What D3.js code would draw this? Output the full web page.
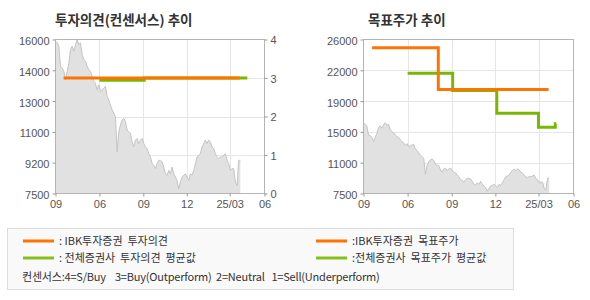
<!DOCTYPE html>
<meta charset="utf-8">
<style>
body { margin: 0; background: #fff; }
text { font-family: "Liberation Sans", Arial, sans-serif; }
.title { font-family: "Noto Sans CJK KR", sans-serif; font-weight: bold; font-size: 13.5px; fill: #333; }
.axis text { font-size: 11px; fill: #555; }
.axis line { stroke: #999; }
.axis .domain { display: none; }
.legend text { font-family: "Noto Sans CJK KR", sans-serif; font-size: 11px; fill: #333; }
</style>
<svg width="590" height="300"></svg>
<script src="https://d3js.org/d3.v7.min.js"></script>
<script>

// stock price, sampled about every 3.5 days from 2024-03-01
var priceStart = "2024-03-01";
var priceStepDays = 3.49;
var priceVals = [
  15910, 15820, 15630, 14520, 14430, 14240, 13780, 14240, 14700, 15440,
  15630, 15350, 15720, 16000, 15720, 15820, 15170, 14890, 14800, 14520,
  14330, 14240, 13960, 13690, 13590, 13220, 13500, 13130, 13220, 13320,
  13410, 12850, 12670, 12390, 12110, 11930, 11740, 9800, 10910, 11280,
  11560, 11650, 11460, 11000, 10910, 10820, 10350, 10070, 10440, 10540,
  10260, 10440, 10540, 10260, 10070, 9980, 9700, 9520, 9150, 9060,
  8870, 9150, 9330, 9330, 9240, 8960, 8590, 8500, 8780, 8590,
  8960, 8590, 8410, 8220, 7760, 8130, 8410, 8500, 8590, 8410,
  8220, 8590, 8500, 8780, 9150, 9520, 9610, 9700, 10070, 10260,
  10440, 10260, 10440, 10350, 10070, 9980, 9700, 9520, 9430, 9520,
  9520, 9610, 9700, 9330, 9150, 8780, 8870, 8870, 8130, 7940,
  9330, 9330
];

// step series: [date, value]
var ibkOpinion = [["2024-03-18", 3], ["2025-03-22", 3]];
var consOpinion = [["2024-06-01", 2.94], ["2024-09-03", 3], ["2025-04-07", 3]];
var ibkTarget = [["2024-03-19", 25000], ["2024-08-04", 20000], ["2025-03-22", 20000]];
var consTarget = [["2024-06-01", 21950], ["2024-09-03", 19870], ["2024-12-04", 17150],
                  ["2025-03-01", 15470], ["2025-04-05", 15870], ["2025-04-07", 15870]];

var xTickDates = ["2024-03-01", "2024-06-01", "2024-09-01", "2024-12-01", "2025-03-01", "2025-05-13"];
var xTickLabels = ["09", "06", "09", "12", "25/03", "06"];

var leftPriceTicks = [7500, 9200, 10900, 12600, 14300, 16000];
var leftPriceLabels = ["7500", "9200", "11000", "13000", "14000", "16000"];
var opinionTicks = [0, 1, 2, 3, 4];
var targetTicks = [7500, 11200, 14900, 18600, 22300, 26000];
var targetLabels = ["7500", "11000", "15000", "19000", "22000", "26000"];

var orange = "#ff7300", green = "#77b800";

var parse = d3.timeParse("%Y-%m-%d");
var t0 = parse(priceStart);
var price = priceVals.map(function(v, i) {
  return { date: d3.timeHour.offset(t0, Math.round(i * priceStepDays * 24)), value: v };
});
function toPts(arr) { return arr.map(function(d) { return { date: parse(d[0]), value: d[1] }; }); }

var svg = d3.select("svg");
var plotTop = 39.5, plotBottom = 193.5;
var domainX = [parse("2024-03-01"), parse("2025-05-13")];

function drawPanel(left, right) {
  var g = svg.append("g");
  var x = d3.scaleTime().domain(domainX).range([left, right]);

  // vertical grid
  g.selectAll(".vg").data(xTickDates.slice(1, 5)).enter().append("line")
    .attr("x1", function(d) { return Math.round(x(parse(d))) + 0.5; })
    .attr("x2", function(d) { return Math.round(x(parse(d))) + 0.5; })
    .attr("y1", plotTop).attr("y2", plotBottom)
    .attr("stroke", "#e6e6e6");

  return { g: g, x: x };
}

function frame(g, left, right) {
  g.append("rect")
    .attr("x", left).attr("y", plotTop)
    .attr("width", right - left).attr("height", plotBottom - plotTop)
    .attr("fill", "none").attr("stroke", "#b4b4b4");
}

function priceArea(g, x, y) {
  var area = d3.area()
    .x(function(d) { return x(d.date); })
    .y0(plotBottom).y1(function(d) { return y(d.value); });
  g.append("path").datum(price)
    .attr("d", area).attr("fill", "#e1e1e1");
  g.append("path").datum(price)
    .attr("d", d3.line().x(function(d) { return x(d.date); }).y(function(d) { return y(d.value); }))
    .attr("fill", "none").attr("stroke", "#c4c4c4").attr("stroke-width", 1);
}

function stepLine(g, x, y, data, color) {
  g.append("path").datum(toPts(data))
    .attr("d", d3.line().curve(d3.curveStepAfter)
      .x(function(d) { return x(d.date); })
      .y(function(d) { return y(d.value); }))
    .attr("fill", "none").attr("stroke", color).attr("stroke-width", 3);
}

function xAxis(g, x) {
  g.append("g").attr("class", "axis")
    .attr("transform", "translate(0," + plotBottom + ")")
    .call(d3.axisBottom(x).tickValues(xTickDates.map(parse)).tickSize(3).tickPadding(4)
      .tickFormat(function(d, i) { return xTickLabels[i]; }));
}

// ---- left panel: opinion ----
var L = drawPanel(55.5, 264.5);
var yPriceL = d3.scaleLinear().domain([7500, 16000]).range([plotBottom, plotTop]);
var yOp = d3.scaleLinear().domain([0, 4]).range([plotBottom, plotTop]);
L.g.selectAll(".hg").data([1, 2, 3]).enter().append("line")
  .attr("x1", 55.5).attr("x2", 264.5)
  .attr("y1", function(d) { return Math.round(yOp(d)) + 0.5; })
  .attr("y2", function(d) { return Math.round(yOp(d)) + 0.5; })
  .attr("stroke", "#e6e6e6");
priceArea(L.g, L.x, yPriceL);
stepLine(L.g, L.x, yOp, consOpinion, green);
stepLine(L.g, L.x, yOp, ibkOpinion, orange);
frame(L.g, 55.5, 264.5);
L.g.append("g").attr("class", "axis").attr("transform", "translate(55.5,0)")
  .call(d3.axisLeft(yPriceL).tickValues(leftPriceTicks).tickSize(3).tickPadding(3)
    .tickFormat(function(d, i) { return leftPriceLabels[i]; }))
  .selectAll("text").attr("dy", "0.45em");
L.g.append("g").attr("class", "axis").attr("transform", "translate(264.5,0)")
  .call(d3.axisRight(yOp).tickValues(opinionTicks).tickSize(3).tickPadding(3).tickFormat(d3.format("d")))
  .selectAll("text").attr("dy", "0.4em");
xAxis(L.g, L.x);
svg.append("text").attr("class", "title").attr("x", 55).attr("y", 25).text("투자의견(컨센서스) 추이");

// ---- right panel: target price ----
var R = drawPanel(363.5, 573.5);
var yT = d3.scaleLinear().domain([7500, 26000]).range([plotBottom, plotTop]);
R.g.selectAll(".hg").data(targetTicks.slice(1, 5)).enter().append("line")
  .attr("x1", 363.5).attr("x2", 573.5)
  .attr("y1", function(d) { return Math.round(yT(d)) + 0.5; })
  .attr("y2", function(d) { return Math.round(yT(d)) + 0.5; })
  .attr("stroke", "#e6e6e6");
priceArea(R.g, R.x, yT);
stepLine(R.g, R.x, yT, consTarget, green);
stepLine(R.g, R.x, yT, ibkTarget, orange);
frame(R.g, 363.5, 573.5);
R.g.append("g").attr("class", "axis").attr("transform", "translate(363.5,0)")
  .call(d3.axisLeft(yT).tickValues(targetTicks).tickSize(3).tickPadding(3)
    .tickFormat(function(d, i) { return targetLabels[i]; }))
  .selectAll("text").attr("dy", "0.45em");
xAxis(R.g, R.x);
svg.append("text").attr("class", "title").attr("x", 368).attr("y", 25).text("목표주가 추이");

// ---- legend ----
var lg = svg.append("g").attr("class", "legend");
lg.append("rect").attr("x", 7.5).attr("y", 228.5).attr("width", 506).attr("height", 61)
  .attr("fill", "#f9f9f9").attr("stroke", "#dcdcdc");
var legendItems = [
  { x: 23, y: 241, color: orange, label: ": IBK투자증권\u00a0 투자의견" },
  { x: 23, y: 258, color: "#84c01a", label: ": 전체증권사\u00a0 투자의견\u00a0 평균값" },
  { x: 316, y: 241, color: orange, label: ":IBK투자증권\u00a0 목표주가" },
  { x: 316, y: 258, color: "#84c01a", label: ":전체증권사\u00a0 목표주가\u00a0 평균값" }
];
legendItems.forEach(function(d) {
  lg.append("line").attr("x1", d.x).attr("x2", d.x + 31).attr("y1", d.y).attr("y2", d.y)
    .attr("stroke", d.color).attr("stroke-width", 3);
  lg.append("text").attr("x", d.x + 36).attr("y", d.y + 4).text(d.label);
});
lg.append("text").attr("x", 22).attr("y", 281).attr("letter-spacing", "-0.2")
  .text("컨센서스:4=S/Buy\u00a0\u00a0\u00a0 3=Buy(Outperform)\u00a0 2=Neutral\u00a0\u00a0 1=Sell(Underperform)");

</script>
